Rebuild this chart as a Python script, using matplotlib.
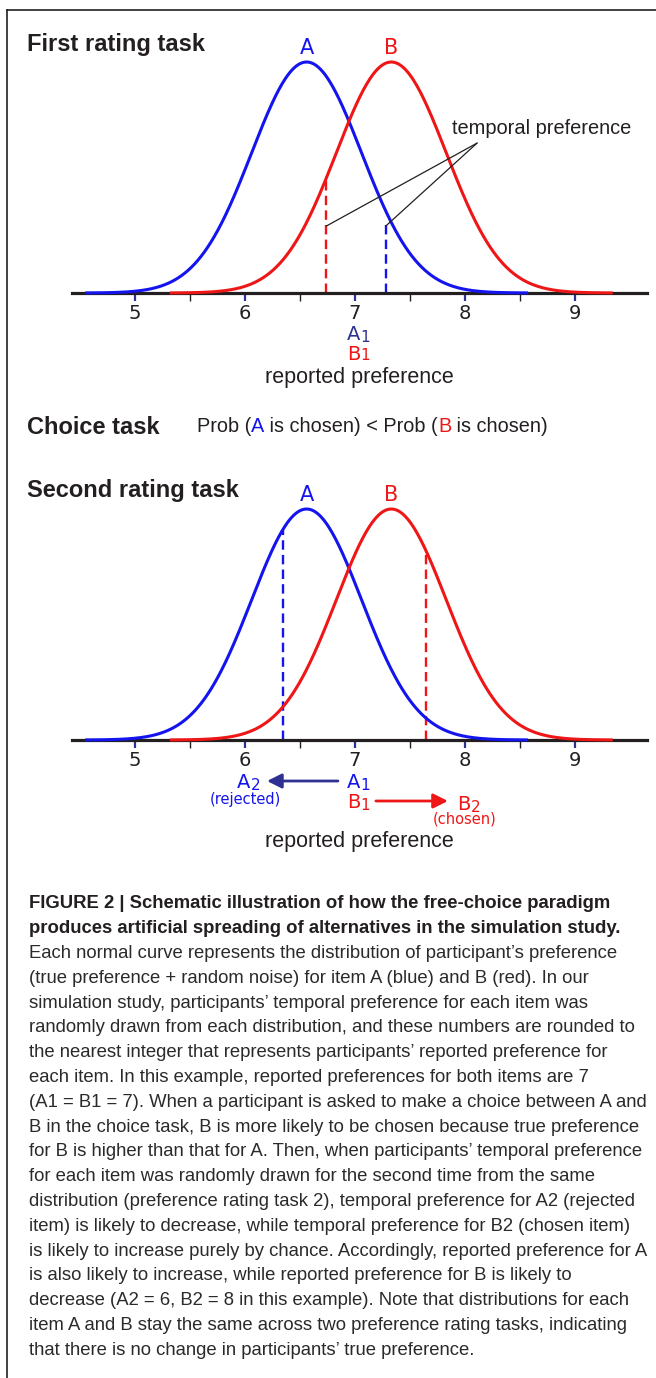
import numpy as np
import matplotlib.pyplot as plt
from matplotlib.lines import Line2D

plt.rcParams["font.family"] = ["Liberation Sans", "DejaVu Sans"]

# ------------------------------------------------------------------
# data
# ------------------------------------------------------------------
items = ["A", "B"]
true_means = [6.56, 7.33]          # centre of each normal curve
noise_sd = 0.5
curve_halfwidth = 2.0              # curves drawn over mean +/- 2
x_ticks = [5, 6, 7, 8, 9]
x_half_ticks = [5.5, 6.5, 7.5, 8.5]
x_range = [4.427, 9.655]

# first rating task: temporal preference and height of the dashed marks
temporal_first = [7.28, 6.74]
dash_top_first = [0.30, 0.49]
reported_first = [7, 7]

# second rating task
temporal_second = [6.345, 7.645]
dash_top_second = [0.91, 0.82]
reported_second = [6, 8]
second_notes = ["(rejected)", "(chosen)"]

caption_head = [
    "FIGURE 2 | Schematic illustration of how the free-choice paradigm",
    "produces artificial spreading of alternatives in the simulation study.",
]
caption_body = [
    "Each normal curve represents the distribution of participant\u2019s preference",
    "(true preference + random noise) for item A (blue) and B (red). In our",
    "simulation study, participants\u2019 temporal preference for each item was",
    "randomly drawn from each distribution, and these numbers are rounded to",
    "the nearest integer that represents participants\u2019 reported preference for",
    "each item. In this example, reported preferences for both items are 7",
    "(A1 = B1 = 7). When a participant is asked to make a choice between A and",
    "B in the choice task, B is more likely to be chosen because true preference",
    "for B is higher than that for A. Then, when participants\u2019 temporal preference",
    "for each item was randomly drawn for the second time from the same",
    "distribution (preference rating task 2), temporal preference for A2 (rejected",
    "item) is likely to decrease, while temporal preference for B2 (chosen item)",
    "is likely to increase purely by chance. Accordingly, reported preference for A",
    "is also likely to increase, while reported preference for B is likely to",
    "decrease (A2 = 6, B2 = 8 in this example). Note that distributions for each",
    "item A and B stay the same across two preference rating tasks, indicating",
    "that there is no change in participants\u2019 true preference.",
]

# ------------------------------------------------------------------
# style
# ------------------------------------------------------------------
W, H = 656, 1378
BLUE = "#1414EE"
RED = "#EE1616"
NAVY = "#2E3192"
DARK = "#231F20"
item_colors = [BLUE, RED]
LABEL_FONT = "DejaVu Sans"
PEAK_PX = 231.0

fig = plt.figure(figsize=(W / 100, H / 100), dpi=100, facecolor="white")

# overlay in pixel coordinates for the free text
page = fig.add_axes([0, 0, 1, 1])
page.set_xlim(0, W)
page.set_ylim(H, 0)
page.axis("off")

# frame (top and left edges only, as cropped in the original)
page.add_line(Line2D([7, W], [10, 10], color=DARK, lw=1.2))
page.add_line(Line2D([7, 7], [10, H], color=DARK, lw=1.2))


def add_panel(baseline_px):
    ax = fig.add_axes([72 / W, (H - baseline_px) / H, 575 / W, PEAK_PX / H])
    ax.set_xlim(x_range)
    ax.set_ylim(0, 1)
    ax.patch.set_visible(False)
    for side in ["top", "left", "right"]:
        ax.spines[side].set_visible(False)
    ax.spines["bottom"].set_linewidth(2.3)
    ax.spines["bottom"].set_color(DARK)
    ax.set_yticks([])
    ax.set_xticks(x_ticks)
    ax.set_xticklabels([str(v) for v in x_ticks], fontsize=14,
                       family=LABEL_FONT, color=DARK)
    ax.set_xticks(x_half_ticks, minor=True)
    ax.tick_params(axis="x", which="major", length=5.5, width=1.6,
                   color=NAVY, pad=2.5)
    ax.tick_params(axis="x", which="minor", length=5.5, width=1.0,
                   color=DARK)

    for name, m, c in zip(items, true_means, item_colors):
        xs = np.linspace(m - curve_halfwidth, m + curve_halfwidth, 400)
        ys = np.exp(-0.5 * ((xs - m) / noise_sd) ** 2)
        ax.plot(xs, ys, color=c, lw=2.2, clip_on=False, zorder=3)
        ax.annotate(name, xy=(m, 1), xytext=(0, 16),
                    textcoords="offset pixels", ha="center",
                    va="center_baseline", color=c, fontsize=15,
                    family=LABEL_FONT)
    return ax


def below(px):
    # distance under the baseline, in pixels, to data y
    return -px / PEAK_PX


def sub_label(ax, x, y, letter, digit, color):
    t = ax.text(x + 0.05, y, letter, color=color, fontsize=14,
                family=LABEL_FONT, ha="right", va="center_baseline")
    ax.annotate(digit, xy=(1, 0), xycoords=t, xytext=(0, 0),
                textcoords="offset points", ha="left", va="bottom",
                color=color, fontsize=11, family=LABEL_FONT)


# ------------------------------------------------------------------
# first rating task
# ------------------------------------------------------------------
page.text(27, 42, "First rating task", fontsize=17, fontweight="bold",
          color=DARK, va="center_baseline")
ax1 = add_panel(293)

for t, top, c in zip(temporal_first, dash_top_first, item_colors):
    ax1.plot([t, t], [0, top], color=c, lw=1.7, ls=(0, (4, 2.2)), zorder=2)

ax1.text(8.70, 0.72, "temporal preference", fontsize=14.4, color=DARK,
         ha="center", va="center_baseline")
for t, top in zip(temporal_first, [0.29, 0.29]):
    ax1.annotate("", xy=(t, top), xytext=(8.11, 0.649),
                 arrowprops=dict(arrowstyle="-", lw=0.9, color=DARK,
                                 shrinkA=0, shrinkB=0))

sub_label(ax1, reported_first[0], below(40), "A", "1", NAVY)
sub_label(ax1, reported_first[1], below(59), "B", "1", RED)
ax1.text(0.5, below(82), "reported preference", transform=ax1.transAxes,
         fontsize=15.5, color=DARK, ha="center", va="center_baseline")

# ------------------------------------------------------------------
# choice task
# ------------------------------------------------------------------
page.text(27, 425, "Choice task", fontsize=17, fontweight="bold",
          color=DARK, va="center_baseline")
segments = [("Prob (", DARK), ("A", BLUE), (" is chosen) < Prob (", DARK),
            ("B", RED), (" is chosen)", DARK)]
prev = page.text(197, 425, segments[0][0], fontsize=14.3, color=segments[0][1],
                 va="center_baseline")
for s, c in segments[1:]:
    prev = page.annotate(s, xy=(1, 0), xycoords=prev, ha="left", va="bottom",
                         fontsize=14.3, color=c)

# ------------------------------------------------------------------
# second rating task
# ------------------------------------------------------------------
page.text(27, 488, "Second rating task", fontsize=17, fontweight="bold",
          color=DARK, va="center_baseline")
ax2 = add_panel(740)

for t, top, c in zip(temporal_second, dash_top_second, item_colors):
    ax2.plot([t, t], [0, top], color=c, lw=1.7, ls=(0, (4, 2.2)), zorder=2)

sub_label(ax2, reported_second[0], below(41), "A", "2", BLUE)
sub_label(ax2, reported_first[0], below(41), "A", "1", BLUE)
sub_label(ax2, reported_first[1], below(61), "B", "1", RED)
sub_label(ax2, reported_second[1], below(63), "B", "2", RED)
ax2.text(reported_second[0], below(58), second_notes[0], color=BLUE,
         fontsize=10.5, family=LABEL_FONT, ha="center", va="center_baseline")
ax2.text(reported_second[1], below(78), second_notes[1], color=RED,
         fontsize=10.5, family=LABEL_FONT, ha="center", va="center_baseline")

ax2.annotate("", xy=(reported_second[0] + 0.2, below(41)),
             xytext=(reported_first[0] - 0.155, below(41)),
             arrowprops=dict(arrowstyle="-|>", color=NAVY, lw=2.0,
                             mutation_scale=22, shrinkA=0, shrinkB=0),
             annotation_clip=False)
ax2.annotate("", xy=(reported_second[1] - 0.155, below(61)),
             xytext=(reported_first[1] + 0.19, below(61)),
             arrowprops=dict(arrowstyle="-|>", color=RED, lw=2.0,
                             mutation_scale=22, shrinkA=0, shrinkB=0),
             annotation_clip=False)

ax2.text(0.5, below(99), "reported preference", transform=ax2.transAxes,
         fontsize=15.5, color=DARK, ha="center", va="center_baseline")

# ------------------------------------------------------------------
# caption: font size fitted to the width of the longest line
# ------------------------------------------------------------------
renderer = fig.canvas.get_renderer()


def fitted_size(text, width_px, **kw):
    probe = page.text(0, 0, text, fontsize=12, **kw)
    w = probe.get_window_extent(renderer=renderer).width
    probe.remove()
    return 12 * width_px / w


head_kw = dict(fontweight="bold")
head_size = fitted_size(caption_head[0], 581, **head_kw)
body_size = fitted_size(caption_body[8], 617)

line_y = 902
for line in caption_head:
    page.text(29, line_y, line, fontsize=head_size, color=DARK,
              va="center_baseline", **head_kw)
    line_y += 24.8
for line in caption_body:
    page.text(29, line_y, line, fontsize=body_size, color="#2a2a2a",
              va="center_baseline")
    line_y += 24.8

fig.savefig("out.png", dpi=100, facecolor="white")
